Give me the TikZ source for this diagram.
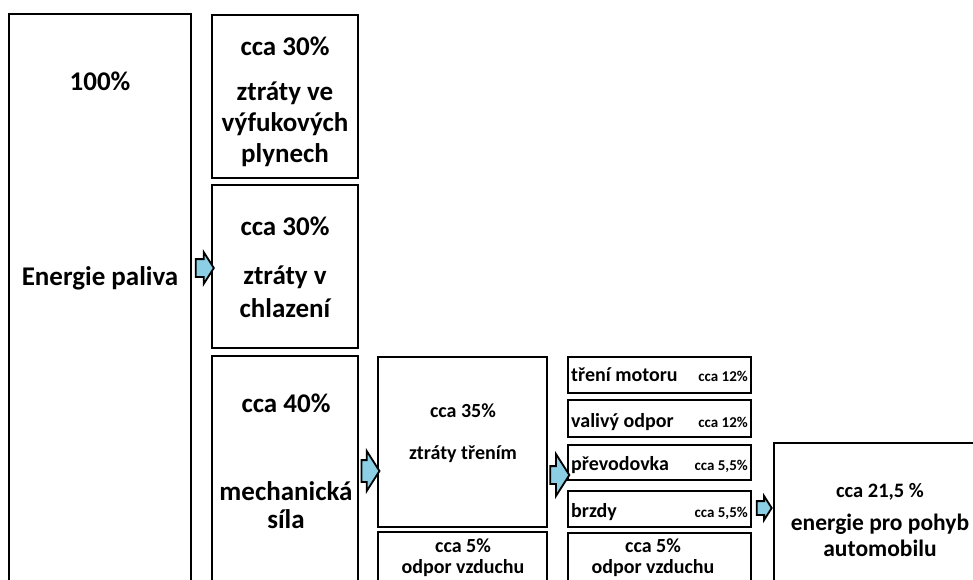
\documentclass[tikz,border=0pt]{standalone}
\usepackage{fontspec}
\setmainfont{Carlito}
\usetikzlibrary{shapes.arrows}

\definecolor{flowblue}{RGB}{140,207,228}

\tikzset{
  box/.style={draw, line width=2.4pt, rectangle, inner sep=0pt, outer sep=0pt, anchor=north west},
  flow/.style={draw, fill=flowblue, line width=1.8pt, single arrow, inner xsep=0pt,
    single arrow tip angle=115, minimum width=0pt},
  big/.style={font=\fontsize{27}{31}\selectfont\bfseries, align=center, anchor=base, inner sep=0pt},
  mid/.style={font=\fontsize{20}{21}\selectfont\bfseries, align=center, anchor=base, inner sep=0pt},
  part/.style={font=\fontsize{20}{22}\selectfont\bfseries, anchor=base west, inner sep=0pt},
  pct/.style={font=\fontsize{15}{16}\selectfont\bfseries, anchor=base east, inner sep=0pt},
  goal/.style={font=\fontsize{23.5}{26}\selectfont\bfseries, align=center, anchor=base, inner sep=0pt}
}

\begin{document}
\begin{tikzpicture}[x=1pt, y=-1pt]
            \useasboundingbox (0,0) rectangle (973,579);
            \clip (0,0) rectangle (973,579);

            % Fuel energy
            \node[box, minimum width=182pt, minimum height=600pt] (fuel) at (9,14) {};
            \node[big] (fuelpct) at (100,90) {100\%};
            \node[big] (fuellbl) at (100,285) {Energie paliva};

            % Exhaust losses
            \node[box, minimum width=146pt, minimum height=163pt] (exhaust) at (212,15) {};
            \node[big] (exhaustpct) at (285,55) {cca 30\%};
            \node[big] (exhaustlbl) at (285,162) {ztráty ve\\výfukových\\plynech};

            % Cooling losses
            \node[box, minimum width=146pt, minimum height=163pt] (cooling) at (212,185) {};
            \node[big] (coolingpct) at (285,235) {cca 30\%};
            \node[big, font=\fontsize{27}{33}\selectfont\bfseries] (coolinglbl) at (285,317) {ztráty v\\chlazení};

            % Mechanical power
            \node[box, minimum width=146pt, minimum height=300pt] (mech) at (212,356) {};
            \node[big] (mechpct) at (286,412) {cca 40\%};
            \node[big, font=\fontsize{27}{28}\selectfont\bfseries] (mechlbl) at (286,528) {mechanická\\síla};

            % Friction losses
            \node[box, minimum width=169pt, minimum height=170pt] (friction) at (378,357) {};
            \node[mid] (frictionpct) at (463,417) {cca 35\%};
            \node[mid] (frictionlbl) at (463,459) {ztráty třením};

            % Air resistance
            \node[box, minimum width=169pt, minimum height=100pt] (airA) at (378,532) {};
            \node[mid] (airAlbl) at (463,573) {cca 5\%\\odpor vzduchu};

            % Friction parts
            \node[box, minimum width=183pt, minimum height=36pt] (engine) at (568,357) {};
            \node[part] (enginelbl) at (571,381) {tření motoru};
            \node[pct] (enginepct) at (748,381) {cca 12\%};

            \node[box, minimum width=183pt, minimum height=37pt] (rolling) at (568,400) {};
            \node[part] (rollinglbl) at (571,427) {valivý odpor};
            \node[pct] (rollingpct) at (748,427) {cca 12\%};

            \node[box, minimum width=183pt, minimum height=35pt] (gearbox) at (568,445) {};
            \node[part] (gearboxlbl) at (571,470) {převodovka};
            \node[pct] (gearboxpct) at (748,470) {cca 5,5\%};

            \node[box, minimum width=183pt, minimum height=36pt] (brakes) at (568,491) {};
            \node[part] (brakeslbl) at (571,517) {brzdy};
            \node[pct] (brakespct) at (748,517) {cca 5,5\%};

            \node[box, minimum width=183pt, minimum height=100pt] (airB) at (568,533) {};
            \node[mid] (airBlbl) at (653,573) {cca 5\%\\odpor vzduchu};

            % Energy for driving
            \node[box, minimum width=230pt, minimum height=200pt] (drive) at (774,443) {};
            \node[mid, font=\fontsize{20.5}{22}\selectfont\bfseries] (drivepct) at (880,497) {cca 21,5 \%};
            \node[goal] (drivelbl) at (880,556) {energie pro pohyb\\automobilu};

            % Arrows
            \node[flow, minimum height=18pt, inner ysep=8pt, single arrow head extend=7pt] (flowA) at (202,268) {};
            \node[flow, minimum height=18pt, inner ysep=10pt, single arrow head extend=9pt] (flowB) at (367,471) {};
            \node[flow, minimum height=19pt, inner ysep=8pt, single arrow head extend=12pt] (flowC) at (557,475) {};
            \node[flow, minimum height=15pt, inner ysep=6pt, single arrow head extend=5pt] (flowD) at (762,508) {};
        \end{tikzpicture}
\end{document}
